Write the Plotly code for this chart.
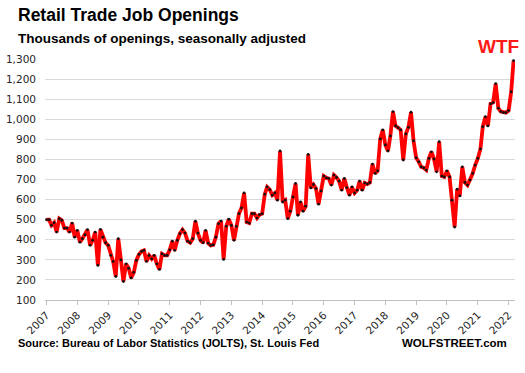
import plotly.graph_objects as go
import pandas as pd

# Retail trade job openings, thousands, monthly Jan 2007 - Mar 2022
openings = [
    500, 500, 472, 485, 438, 505, 497, 458, 458, 438, 483, 413,   # 2007
    447, 388, 405, 425, 450, 372, 397, 438, 272, 452, 413, 385,   # 2008
    372, 322, 292, 217, 405, 300, 192, 280, 258, 210, 238, 297,   # 2009
    327, 342, 347, 292, 322, 305, 322, 280, 252, 330, 322, 322,   # 2010
    350, 393, 347, 397, 430, 450, 433, 393, 385, 405, 492, 433,   # 2011
    397, 385, 447, 383, 372, 375, 413, 480, 493, 302, 467, 502,   # 2012
    472, 397, 467, 530, 558, 633, 488, 483, 530, 530, 508, 525,   # 2013
    530, 627, 663, 650, 622, 633, 597, 842, 588, 597, 505, 542,   # 2014
    613, 680, 522, 588, 542, 567, 825, 658, 675, 655, 577, 643,   # 2015
    717, 708, 705, 672, 722, 710, 692, 647, 705, 660, 622, 663,   # 2016
    633, 647, 692, 647, 683, 677, 685, 777, 730, 743, 902, 947,   # 2017
    872, 842, 917, 1038, 967, 958, 947, 797, 927, 960, 1035, 893,  # 2018
    808, 788, 763, 758, 747, 805, 838, 802, 738, 888, 717, 713,   # 2019
    743, 713, 597, 463, 652, 618, 763, 685, 672, 697, 730, 772,   # 2020
    805, 852, 963, 1013, 967, 1077, 1083, 1177, 1055, 1038, 1033, 1033,  # 2021
    1043, 1137, 1292,                                             # 2022
]
start_month = "2007-01-01"
year_labels = [str(y) for y in range(2007, 2023)]
y_ticks = list(range(100, 1301, 100))

months = pd.date_range(start_month, periods=len(openings), freq="MS")
year_ticks = [pd.Timestamp(f"{y}-01-01") for y in year_labels]

fig = go.Figure()
fig.add_trace(go.Scatter(
    x=months, y=openings, mode="lines+markers",
    line=dict(color="#ff0000", width=3.8),
    marker=dict(color="#111111", size=2.8),
    hoverinfo="skip",
))

txt = "#262626"
fig.update_layout(
    width=525, height=373,
    margin=dict(l=45, r=10, t=59, b=73),
    paper_bgcolor="white", plot_bgcolor="white",
    showlegend=False,
    font=dict(family="DejaVu Sans", color=txt),
    xaxis=dict(
        range=[pd.Timestamp("2006-12-14"), pd.Timestamp("2022-03-18")],
        tickvals=year_ticks, ticktext=year_labels, tickangle=-45,
        tickfont=dict(size=10.5, color=txt, family="DejaVu Sans"),
        showgrid=False, showline=True, linecolor="#bfbfbf", linewidth=1,
        ticks="outside", ticklen=4, tickcolor="#bfbfbf", zeroline=False,
        automargin=False,
    ),
    yaxis=dict(
        range=[100, 1300], tickvals=y_ticks, tickformat=",",
        tickfont=dict(size=10.5, color=txt, family="DejaVu Sans"),
        showgrid=True, gridcolor="#d9d9d9", gridwidth=1,
        zeroline=False, showline=False, ticks="", ticklabelstandoff=8,
        automargin=False,
    ),
    annotations=[
        dict(text="<b>Retail Trade Job Openings</b>", xref="paper", yref="paper",
             x=-0.062, y=1.182, xanchor="left", yanchor="middle", showarrow=False,
             font=dict(size=17.5, color="#000000", family="Liberation Sans")),
        dict(text="<b>Thousands of openings, seasonally adjusted</b>", xref="paper", yref="paper",
             x=-0.062, y=1.084, xanchor="left", yanchor="middle", showarrow=False,
             font=dict(size=13.5, color="#000000", family="Liberation Sans")),
        dict(text="<b>WTF</b>", xref="paper", yref="paper",
             x=1.013, y=1.051, xanchor="right", yanchor="middle", showarrow=False,
             font=dict(size=19, color="#ff1a1a", family="Liberation Sans")),
        dict(text="<b>Source: Bureau of Labor Statistics (JOLTS), St. Louis Fed</b>",
             xref="paper", yref="paper", x=-0.062, y=-0.179, xanchor="left", yanchor="middle",
             showarrow=False, font=dict(size=11, color="#000000", family="Liberation Sans")),
        dict(text="<b>WOLFSTREET.com</b>", xref="paper", yref="paper",
             x=0.987, y=-0.179, xanchor="right", yanchor="middle", showarrow=False,
             font=dict(size=11.5, color="#000000", family="Liberation Sans")),
    ],
)

fig.write_html("out.html", config={"displayModeBar": False},
               post_script="document.body.style.margin='0';")
